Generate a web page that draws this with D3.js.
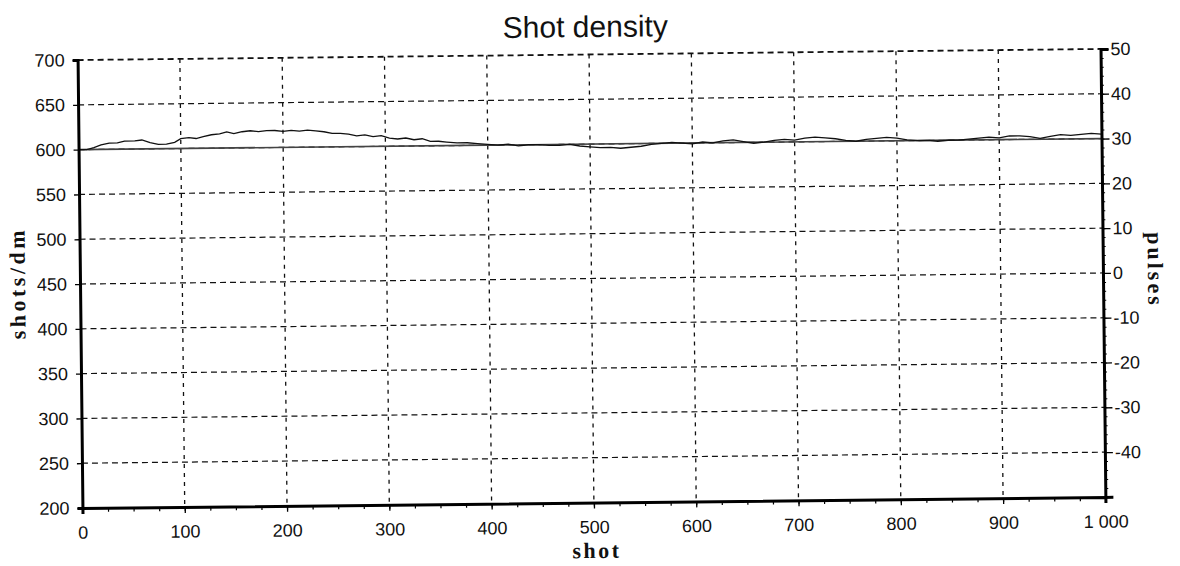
<!DOCTYPE html>
<html>
<head>
<meta charset="utf-8">
<script src="https://cdn.jsdelivr.net/npm/d3@7"></script>
<style>
  body { margin: 0; background: #fff; }
  svg { display: block; }
  .tick text { font-family: "Liberation Sans", Arial, sans-serif; font-size: 18px; fill: #111; }
</style>
</head>
<body>
<div id="chart"></div>
<script>
// shot density series
const shots = [0, 8, 15, 22, 30, 38, 45, 55, 62, 70, 78, 86, 94, 100, 108, 115, 122, 130, 138, 145,
  152, 160, 168, 176, 184, 192, 200, 208, 216, 224, 232, 240, 248, 256, 264, 272, 280, 288, 296, 304,
  312, 320, 328, 336, 344, 352, 360, 370, 380, 390, 400, 410, 420, 430, 440, 450, 460, 470, 480, 490,
  500, 510, 520, 530, 540, 550, 560, 570, 580, 590, 600, 610, 620, 630, 640, 650, 660, 670, 680, 690,
  700, 710, 720, 730, 740, 750, 760, 770, 780, 790, 800, 810, 820, 830, 840, 850, 860, 870, 880, 890,
  900, 910, 920, 930, 940, 950, 960, 970, 980, 990, 1000];
const density = [600, 600, 602, 605, 607, 607, 609, 609, 610, 607, 605, 605, 607, 611, 612, 611, 613, 615, 616, 618,
  616, 618, 619, 618, 619, 619, 618, 619, 618, 619, 618, 617, 615, 615, 614, 612, 613, 611, 612, 609,
  608, 609, 607, 608, 605, 605, 604, 603, 603, 602, 601, 600, 601, 599, 600, 600, 599, 599, 600, 598,
  597, 596, 596, 595, 596, 597, 599, 600, 601, 600, 599, 601, 600, 602, 603, 601, 599, 600, 602, 603,
  602, 604, 605, 604, 603, 601, 600, 602, 603, 604, 603, 601, 600, 600, 599, 600, 600, 601, 602, 603,
  602, 604, 604, 603, 601, 603, 605, 604, 605, 606, 605];

// pulses series (right axis)
const pulseShots = [0, 1000];
const pulses = [30, 30];

const leftTicks = [200, 250, 300, 350, 400, 450, 500, 550, 600, 650, 700];
const rightTicks = [50, 40, 30, 20, 10, 0, -10, -20, -30, -40];
const shotTicks = [0, 100, 200, 300, 400, 500, 600, 700, 800, 900, 1000];

const W = 1180, H = 566;
const margin = { top: 54.5, right: 77, bottom: 63.5, left: 80 };
const iw = W - margin.left - margin.right;
const ih = H - margin.top - margin.bottom;

const svg = d3.select("#chart").append("svg").attr("width", W).attr("height", H);
// the scan is slightly tilted
const root = svg.append("g").attr("transform", "rotate(-0.62, 591, 280)");
const g = root.append("g").attr("transform", `translate(${margin.left},${margin.top})`);

const x = d3.scaleLinear().domain([0, 1000]).range([0, iw]);
const y = d3.scaleLinear().domain([200, 700]).range([ih, 0]);
const y2 = d3.scaleLinear().domain([-50, 50]).range([ih, 0]);

// grid
g.append("g")
  .selectAll("line")
  .data(leftTicks.filter((d) => d > 200))
  .enter()
  .append("line")
  .attr("x1", 0).attr("x2", iw)
  .attr("y1", (d) => y(d)).attr("y2", (d) => y(d))
  .attr("stroke", "#111")
  .attr("stroke-width", (d) => (d === 700 ? 1.8 : 1.2))
  .attr("stroke-dasharray", "6,4");
g.append("g")
  .selectAll("line")
  .data(shotTicks.filter((d) => d > 0 && d < 1000))
  .enter()
  .append("line")
  .attr("x1", (d) => x(d)).attr("x2", (d) => x(d))
  .attr("y1", 0).attr("y2", ih)
  .attr("stroke", "#111")
  .attr("stroke-width", 1.3)
  .attr("stroke-dasharray", "4,5");

// pulses line
g.append("path")
  .datum(pulseShots.map((s, i) => [s, pulses[i]]))
  .attr("fill", "none")
  .attr("stroke", "#444")
  .attr("stroke-width", 1.7)
  .attr("d", d3.line().x((d) => x(d[0])).y((d) => y2(d[1])));

// density line
g.append("path")
  .datum(shots.map((s, i) => [s, density[i]]))
  .attr("fill", "none")
  .attr("stroke", "#111")
  .attr("stroke-width", 1.3)
  .attr("d", d3.line().x((d) => x(d[0])).y((d) => y(d[1])));

// axes
const styleAxis = (sel) => {
  sel.select(".domain").attr("stroke", "#000").attr("stroke-width", 3);
  sel.selectAll(".tick line").attr("stroke", "#000").attr("stroke-width", 1.3);
};

// minor ticks
g.append("g")
  .attr("transform", `translate(0,${ih})`)
  .call(d3.axisBottom(x).tickValues(d3.range(25, 1000, 25)).tickSize(4).tickFormat(""))
  .call((s) => s.select(".domain").remove())
  .selectAll(".tick line").attr("stroke", "#000").attr("stroke-width", 1.2);
g.append("g")
  .attr("transform", `translate(${iw},0)`)
  .call(d3.axisRight(y2).tickValues(d3.range(-48, 50, 2)).tickSize(3).tickFormat(""))
  .call((s) => s.select(".domain").remove())
  .selectAll(".tick line").attr("stroke", "#000").attr("stroke-width", 1);

g.append("g")
  .call(d3.axisLeft(y).tickValues(leftTicks).tickSize(5).tickPadding(8).tickFormat((d) => String(d)))
  .call(styleAxis);
g.append("g")
  .attr("transform", `translate(${iw},0)`)
  .call(d3.axisRight(y2).tickValues(rightTicks).tickSize(8).tickPadding(2).tickFormat((d) => String(d)))
  .call(styleAxis);
g.append("g")
  .attr("transform", `translate(0,${ih})`)
  .call(d3.axisBottom(x).tickValues(shotTicks).tickSize(6).tickPadding(12)
    .tickFormat((d) => (d === 1000 ? "1 000" : String(d))))
  .call(styleAxis);

// titles
root.append("text")
  .attr("x", 588).attr("y", 37)
  .attr("text-anchor", "middle")
  .attr("font-family", "Liberation Sans, Arial, sans-serif")
  .attr("font-size", 30)
  .attr("fill", "#111")
  .text("Shot density");

root.append("text")
  .attr("transform", "translate(594,558)")
  .attr("text-anchor", "middle")
  .attr("font-family", "Liberation Serif, Times New Roman, serif")
  .attr("font-weight", "bold")
  .attr("font-size", 22)
  .attr("letter-spacing", 2.5)
  .attr("fill", "#111")
  .text("shot");

root.append("text")
  .attr("transform", "translate(25,277) rotate(-90)")
  .attr("text-anchor", "middle")
  .attr("font-family", "Liberation Serif, Times New Roman, serif")
  .attr("font-weight", "bold")
  .attr("font-size", 22)
  .attr("letter-spacing", 3.5)
  .attr("fill", "#111")
  .text("shots/dm");

root.append("text")
  .attr("transform", "translate(1148,276) rotate(90)")
  .attr("text-anchor", "middle")
  .attr("font-family", "Liberation Serif, Times New Roman, serif")
  .attr("font-weight", "bold")
  .attr("font-size", 22)
  .attr("letter-spacing", 3)
  .attr("fill", "#111")
  .text("pulses");
</script>
</body>
</html>
